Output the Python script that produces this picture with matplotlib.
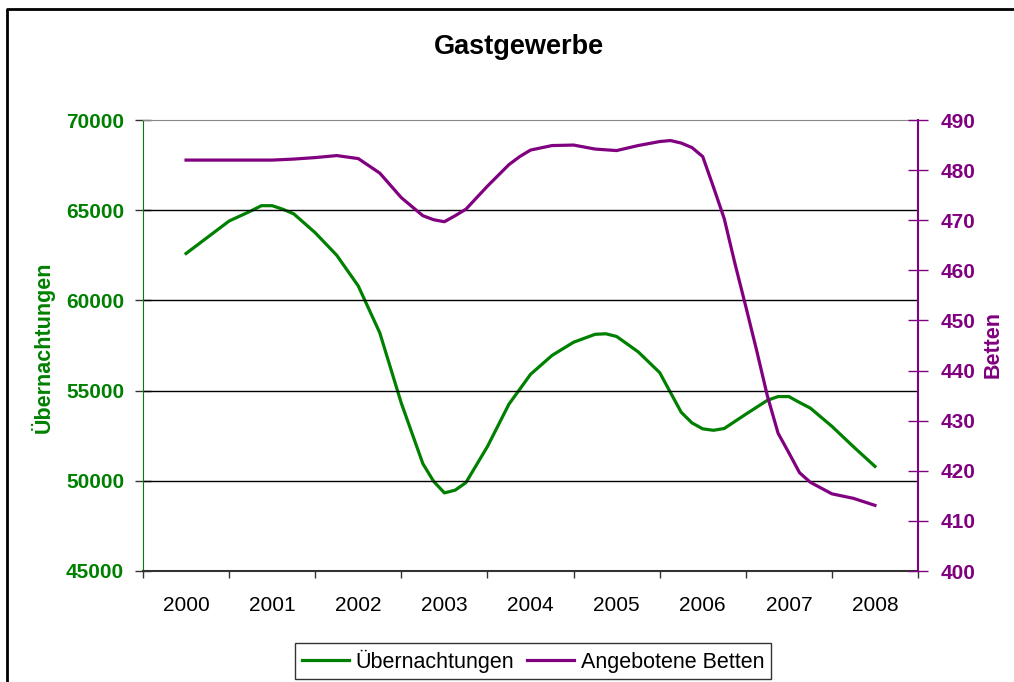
import matplotlib
matplotlib.use("Agg")
import matplotlib.pyplot as plt
from matplotlib.lines import Line2D
import numpy as np

plt.rcParams["font.family"] = ["Liberation Sans", "DejaVu Sans"]

jahre = ["2000", "2001", "2002", "2003", "2004", "2005", "2006", "2007", "2008"]

t_uebern = [0, 0.25, 0.5, 0.75, 0.875, 1, 1.125, 1.25, 1.5, 1.75, 2, 2.25, 2.5, 2.75, 2.875,
            3, 3.125, 3.25, 3.5, 3.75, 4, 4.25, 4.5, 4.75, 4.875, 5, 5.25, 5.5, 5.75, 5.875,
            6, 6.125, 6.25, 6.5, 6.75, 6.875, 7, 7.125, 7.25, 7.5, 7.75, 8]
uebernachtungen = [62600, 63500, 64400, 64950, 65250, 65250, 65050, 64800, 63750, 62500,
                   60800, 58200, 54300, 50950, 49970, 49330, 49480, 49900, 51900, 54250,
                   55900, 56950, 57680, 58120, 58150, 58000, 57150, 56000, 53800, 53210,
                   52880, 52800, 52900, 53690, 54460, 54670, 54670, 54340, 54030, 53020,
                   51890, 50800]

t_betten = [0, 0.25, 0.5, 0.75, 1, 1.25, 1.5, 1.75, 2, 2.25, 2.5, 2.75, 2.875, 3, 3.125,
            3.25, 3.5, 3.75, 3.875, 4, 4.25, 4.5, 4.75, 5, 5.25, 5.5, 5.625, 5.75, 5.875,
            6, 6.125, 6.25, 6.375, 6.5, 6.625, 6.75, 6.875, 7, 7.125, 7.25, 7.5, 7.75, 8]
betten = [482.0, 482.0, 482.0, 482.0, 482.0, 482.2, 482.5, 482.9, 482.3, 479.4,
          474.5, 470.9, 470.1, 469.7, 470.9, 472.2, 476.8, 481.1, 482.7, 484.0,
          484.9, 485.0, 484.2, 483.9, 484.9, 485.7, 485.9, 485.4, 484.5, 482.7,
          476.6, 470.3, 461.3, 452.8, 444.1, 435.0, 427.5, 423.6, 419.6, 417.7,
          415.4, 414.5, 413.1]

gruen = "#008000"
lila = "#800080"

fig = plt.figure(figsize=(10.14, 6.82), dpi=100)
ax = fig.add_axes([143/1014, 1-571/682, (918-143)/1014, (571-120)/682])
ax2 = ax.twinx()

l1, = ax.plot(t_uebern, uebernachtungen, color=gruen, lw=2.3, solid_joinstyle="round")
l2, = ax2.plot(t_betten, betten, color=lila, lw=2.3, solid_joinstyle="round")

ax.set_xlim(-0.5, 8.5)
ax.set_ylim(45000, 70000)
ax2.set_ylim(400, 490)
ax.set_yticks(np.arange(45000, 70001, 5000))
ax2.set_yticks(np.arange(400, 491, 10))
ax.set_xticks(range(9))
ax.set_xticklabels(jahre)
ax.set_xticks(np.arange(-0.5, 9, 1), minor=True)
ax.tick_params(axis="x", which="major", length=0, labelsize=15, pad=18)
ax.tick_params(axis="x", which="minor", length=5, width=1, color="#333333", direction="out")
ax.tick_params(axis="y", length=11, width=1, direction="inout", color="#333333",
               labelsize=15, labelcolor=gruen, pad=8)
ax2.tick_params(axis="y", length=14, width=1, direction="inout", color=lila,
                labelsize=15, labelcolor=lila, pad=9)
for lab in ax.get_yticklabels() + ax2.get_yticklabels():
    lab.set_fontweight("bold")

for y in [50000, 55000, 60000, 65000]:
    ax.axhline(y, color="black", lw=1)

ax.spines["left"].set_color(gruen)
ax.spines["top"].set_color("#888888")
ax.spines["bottom"].set_color("#333333")
ax.spines["bottom"].set_linewidth(1.5)
ax2.spines["right"].set_color(lila)
ax2.spines["right"].set_linewidth(1.5)
ax2.spines["top"].set_visible(False)
ax2.spines["bottom"].set_visible(False)
ax2.spines["left"].set_visible(False)
ax.spines["right"].set_visible(False)

fig.text(519/1014, 1-47/682, "Gastgewerbe", ha="center", va="center",
         fontsize=19.5, fontweight="bold")
fig.text(43/1014, 1-347/682, "Übernachtungen", rotation=90, ha="center", va="center",
         fontsize=15.5, fontweight="bold", color=gruen)
fig.text(993/1014, 1-345/682, "Betten", rotation=90, ha="center", va="center",
         fontsize=15.5, fontweight="bold", color=lila)

leg = fig.legend([l1, l2], ["Übernachtungen", "Angebotene Betten"], loc="center",
                 bbox_to_anchor=(533/1014, 1-661/682), ncol=2, fontsize=15.5,
                 frameon=True, fancybox=False, handlelength=2.2, handletextpad=0.3,
                 columnspacing=0.6, borderpad=0.3)
leg.get_frame().set_edgecolor("black")
leg.get_frame().set_linewidth(1)

# Rahmen des Diagramms (rechts und unten abgeschnitten)
fig.add_artist(Line2D([7/1014, 7/1014, 1.0], [0.0, 1-9/682, 1-9/682],
                      transform=fig.transFigure, color="black", lw=2))

fig.savefig("out.png", dpi=100)
